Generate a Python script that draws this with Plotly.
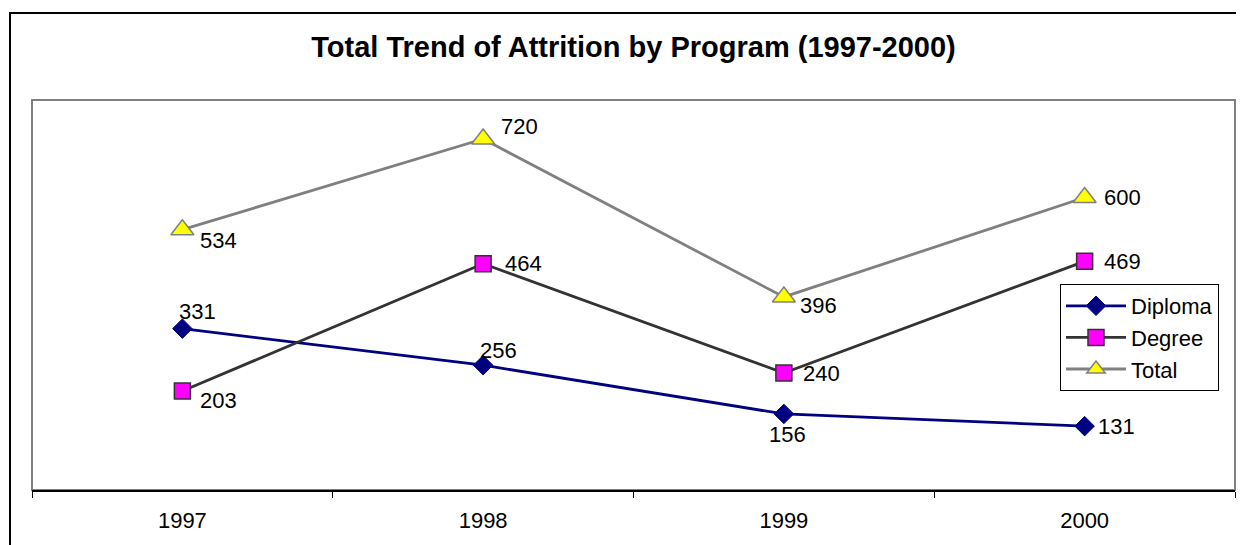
import plotly.graph_objects as go

years = ["1997", "1998", "1999", "2000"]
diploma = [331, 256, 156, 131]
degree = [203, 464, 240, 469]
total = [534, 720, 396, 600]
title_text = "Total Trend of Attrition by Program (1997-2000)"

FONT = "Arial, Liberation Sans, Helvetica, sans-serif"

fig = go.Figure()
fig.add_trace(go.Scatter(
    x=years, y=diploma, name="Diploma", mode="lines+markers",
    line=dict(color="#000080", width=2.8),
    marker=dict(symbol="diamond", size=15, color="#000080",
                line=dict(color="#000080", width=1)),
))
fig.add_trace(go.Scatter(
    x=years, y=degree, name="Degree", mode="lines+markers",
    line=dict(color="#333333", width=2.8),
    marker=dict(symbol="square", size=16, color="#FF00FF",
                line=dict(color="#333333", width=1.5)),
))
fig.add_trace(go.Scatter(
    x=years, y=total, name="Total", mode="lines+markers",
    line=dict(color="#808080", width=2.8),
    marker=dict(symbol="triangle-up", size=20, color="#FFFF00",
                line=dict(color="#808080", width=1.5)),
))

# label offsets (pixels): (dx right, dy down)
offsets = {
    "Diploma": [(15, -17), (15, -15), (4, 21), (32, 0)],
    "Degree": [(36, 9), (40, 0), (38, 0), (38, 0)],
    "Total": [(36, 11), (36, -13), (35, 9), (38, 0)],
}
series = {"Diploma": diploma, "Degree": degree, "Total": total}
annotations = []
for name, vals in series.items():
    for i, v in enumerate(vals):
        dx, dy = offsets[name][i]
        annotations.append(dict(
            x=i, y=v, xref="x", yref="y", text=str(v), showarrow=False,
            xshift=dx, yshift=-dy, xanchor="center", yanchor="middle",
            font=dict(family=FONT, size=22, color="black"),
        ))

# page has an 8px body margin; figure sized to fit the 1244x545 window
shapes = [
    # outer chart border (left and top visible)
    dict(type="rect", xref="paper", yref="paper",
         x0=(10 - 32) / 1203, x1=1.2, y0=-0.6, y1=(490 - 13) / 390,
         line=dict(color="black", width=2), layer="below"),
    # plot area border
    dict(type="rect", xref="paper", yref="paper", x0=0, x1=1, y0=0, y1=1,
         line=dict(color="#808080", width=2), layer="below"),
]

fig.update_layout(
    width=1236, height=537,
    margin=dict(l=24, r=9, t=92, b=55),
    paper_bgcolor="white", plot_bgcolor="white",
    title=dict(text="<b>" + title_text + "</b>", x=0.5, xref="paper",
               y=1 - 39 / 537, yref="container", yanchor="middle",
               xanchor="center",
               font=dict(family=FONT, size=29, color="black")),
    xaxis=dict(type="category", range=[-0.5, 3.5], showgrid=False,
               zeroline=False, showline=True, linecolor="black", linewidth=1.5,
               ticks="outside", tickson="boundaries", ticklen=6,
               tickcolor="black", tickwidth=1, ticklabelstandoff=10,
               tickfont=dict(family=FONT, size=22, color="black")),
    yaxis=dict(range=[0, 800], showgrid=False, zeroline=False,
               showline=False, showticklabels=False, ticks=""),
    legend=dict(x=(1060 - 32) / 1203, y=(490 - 284) / 390, xanchor="left",
                yanchor="top", bordercolor="black", borderwidth=1,
                bgcolor="white", itemwidth=60,
                font=dict(family=FONT, size=22, color="black")),
    annotations=annotations,
    shapes=shapes,
    showlegend=True,
)

fig.write_html("out.html")
